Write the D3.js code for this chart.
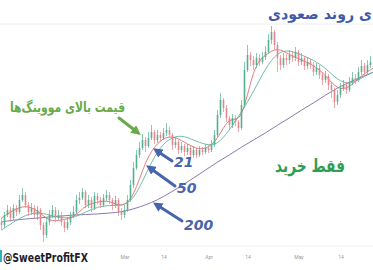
<!DOCTYPE html>
<html>
<head>
<meta charset="utf-8">
<script src="https://cdn.jsdelivr.net/npm/d3@7"></script>
<style>
  body { margin: 0; background: #fff; }
  svg { display: block; }
</style>
</head>
<body>
<div id="viz-container"></div>
<script>
// candle data (price units), open = previous close
let firstOpen = 28;
let closes = [25,35,40,32,42,38,50,55,45,38,42,35,40,25,15,28,35,40,32,35,28,22,28,35,38,50,52,58,45,50,
  42,54,50,45,52,55,50,45,50,38,35,40,50,65,82,95,102,110,104,112,118,110,115,112,117,120,115,105,108,100,
  104,98,102,95,100,95,100,98,102,100,105,115,135,150,142,132,125,132,128,122,145,180,195,190,185,192,188,193,198,210,
  218,205,192,185,192,190,195,192,198,188,192,184,188,185,178,182,175,170,174,165,160,148,155,162,165,160,168,172,170,178,
  184,178,185,188];
let highs = [32,38,45,43,46,45,55,62,58,48,47,45,44,42,28,32,40,45,43,40,38,30,33,38,44,55,58,62,60,55,
  53,58,57,53,56,60,58,52,54,52,42,45,55,70,88,100,108,116,113,118,125,120,120,118,122,127,123,117,113,110,
  108,106,106,104,104,102,104,103,106,105,110,120,140,157,152,145,134,136,135,130,150,188,205,198,194,197,196,198,204,216,
  224,220,208,195,197,196,200,199,203,200,197,194,193,191,188,187,185,178,179,176,168,162,160,167,170,168,173,178,176,183,
  190,187,190,194];
let lows = [20,22,33,28,30,34,36,48,42,34,35,32,30,20,8,12,25,32,28,30,24,18,20,25,32,36,46,50,42,42,
  38,40,46,42,43,49,46,40,42,34,30,32,38,48,62,80,92,100,98,102,110,106,107,108,110,114,112,100,102,96,
  97,94,95,92,92,92,93,95,96,97,98,103,113,132,138,128,120,122,124,118,120,142,178,184,180,182,184,186,190,196,
  206,200,178,180,182,185,186,188,189,184,185,180,181,181,174,175,171,165,167,160,152,142,145,152,159,156,158,165,166,168,
  175,174,176,182];

// moving averages read at every 4th candle
let maIdx = [0,4,8,12,16,20,24,28,32,36,40,44,48,52,56,60,64,68,72,76,80,84,88,92,96,100,104,108,112,116,120,124];
let ma21 = [32,40,45,40,28,30,32,45,48,50,42,52,90,108,115,110,102,100,110,135,125,185,195,203,195,190,185,175,160,162,175,182];
let ma50 = [20,28,35,38,35,32,32,38,43,45,44,50,75,100,112,115,110,105,105,120,138,158,182,198,200,195,190,182,170,165,172,178];
let ma200 = [28,30,31,32,33,34,35,35.5,36,37,38,41,45,50,57,64,72,80,88,95,103,110,117,125,132,140,147,155,162,168,173,178];

// axis ticks
let tickIdx = [41,54,69,82,99,113];
let tickLabels = ["Mar","14","Apr","14","May","14"];

let W = 373, H = 270;
let viz = d3.select("#viz-container")
    .append("svg")
    .attr("width",W)
    .attr("height",H)
;

let candles = closes.map(function(c,i){
  return {i:i, o:(i==0?firstOpen:closes[i-1]), c:c, h:highs[i], l:lows[i]};
});

let x = d3.scaleLinear().domain([0,123]).range([1.5,370.5]);
let y = d3.scaleLinear().domain([0,240]).range([250,10]);

// top separator and bottom axis line
viz.append("line").attr("x1",0).attr("x2",W).attr("y1",24).attr("y2",24)
  .attr("stroke","#eeeeee").attr("stroke-width",1);
viz.append("line").attr("x1",0).attr("x2",W).attr("y1",246).attr("y2",246)
  .attr("stroke","#f0f0f0").attr("stroke-width",1);

// moving averages
function maLine(vals){
  return d3.line()
    .x(function(d,k){ return x(maIdx[k]); })
    .y(function(d){ return y(d); })
    .curve(d3.curveBasis)(vals);
}
viz.append("path").attr("d",maLine(ma200)).attr("fill","none").attr("stroke","#7d6aa8").attr("stroke-width",0.9);
viz.append("path").attr("d",maLine(ma50)).attr("fill","none").attr("stroke","#5fb59a").attr("stroke-width",0.9);
viz.append("path").attr("d",maLine(ma21)).attr("fill","none").attr("stroke","#e07070").attr("stroke-width",0.9);

// candles
function candleColor(d){
  return d.c>=d.o ? "#55b08f" : "#e5848a";
}
let cg = viz.selectAll(".candle").data(candles).enter()
  .append("g").attr("class","candle");
cg.append("line")
  .attr("x1",function(d){ return x(d.i); })
  .attr("x2",function(d){ return x(d.i); })
  .attr("y1",function(d){ return y(d.h); })
  .attr("y2",function(d){ return y(d.l); })
  .attr("stroke",candleColor)
  .attr("stroke-width",0.7);
cg.append("rect")
  .attr("x",function(d){ return x(d.i)-0.8; })
  .attr("y",function(d){ return y(Math.max(d.o,d.c)); })
  .attr("width",1.6)
  .attr("height",function(d){ return Math.max(0.8,Math.abs(y(d.o)-y(d.c))); })
  .attr("fill",candleColor);

// x axis labels
let xAxis = d3.axisBottom(x).tickValues(tickIdx)
  .tickFormat(function(d,k){ return tickLabels[k]; })
  .tickSize(0);
let ax = viz.append("g").attr("transform","translate(0,252)").call(xAxis);
ax.select(".domain").remove();
ax.selectAll("text").attr("fill","#999").attr("font-size",5).attr("font-family","Roboto");

// arrows
let defs = viz.append("defs");
function marker(id,col){
  defs.append("marker").attr("id",id)
    .attr("viewBox","0 0 10 10").attr("refX",5).attr("refY",5)
    .attr("markerWidth",3.2).attr("markerHeight",3.2).attr("orient","auto")
    .append("path").attr("d","M0,0 L10,5 L0,10 z").attr("fill",col);
}
marker("ag","#6aaa4a");
marker("ab","#4764ad");

function arrow(x1,y1,x2,y2,col,id){
  viz.append("line").attr("x1",x1).attr("y1",y1).attr("x2",x2).attr("y2",y2)
    .attr("stroke",col).attr("stroke-width",3).attr("stroke-linecap","round")
    .attr("marker-end","url(#"+id+")");
}
arrow(119,118,137,132,"#6aaa4a","ag");
arrow(172,161,157,151,"#4764ad","ab");
arrow(175,186,150,168,"#4764ad","ab");
arrow(182,221,157,205,"#4764ad","ab");

// MA labels
function blueLabel(tx,xx,yy){
  viz.append("text").attr("x",xx).attr("y",yy).text(tx)
    .attr("fill","#4764ad").attr("font-size",14).attr("font-weight","bold")
    .attr("font-style","italic").attr("font-family","DejaVu Sans");
}
blueLabel("21",174,167);
blueLabel("50",177,193);
blueLabel("200",184,230);

// captions squeezed to a given width; anchor "end" = right edge at xa
function fitText(tx,xa,yy,w,size,col,anchor){
  let t = viz.append("text").attr("x",0).attr("y",0).attr("text-anchor",anchor)
    .text(tx).attr("fill",col).attr("font-size",size).attr("font-weight","bold")
    .attr("font-family","DejaVu Sans");
  let len = t.node().getComputedTextLength();
  let k = Math.min(1,w/len);
  t.attr("transform","translate("+xa+","+yy+") scale("+k+",1)");
}
fitText("ی روند صعودی",372,19,104,15,"#3f5ba8","end");
fitText("قیمت بالای مووینگ‌ها",125,112,115,14,"#6aaa4a","end");
fitText("فقط خرید",345,172,70,18,"#2f9e55","end");

// watermark
viz.append("rect").attr("x",0).attr("y",250).attr("width",2).attr("height",12).attr("fill","#2bb3c0");
fitText("@SweetProfitFX",3,262,85,13,"#1d1d2b","start");
</script>
</body>
</html>
